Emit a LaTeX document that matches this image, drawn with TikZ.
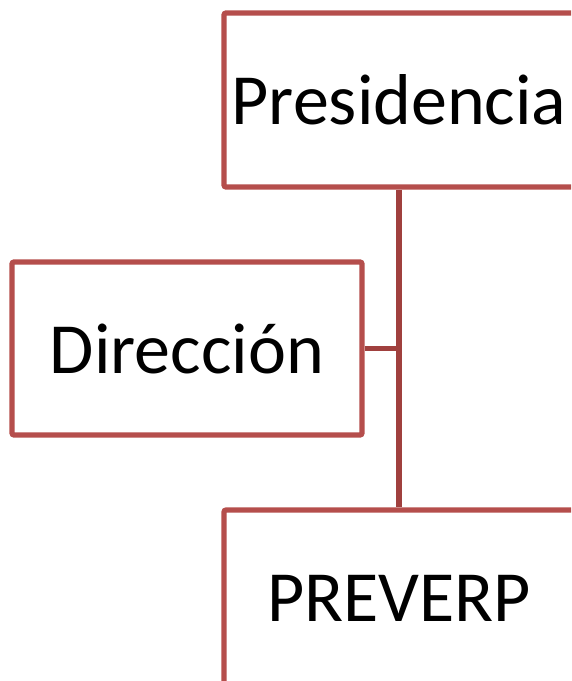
\documentclass[tikz,border=0pt]{standalone}
\usepackage{fontspec}
\setmainfont{Carlito}
\definecolor{boxred}{HTML}{B54E4C}
\definecolor{linered}{HTML}{A0403E}
\begin{document}
\begin{tikzpicture}[x=0.75pt,y=-0.75pt,
  orgbox/.style={draw=boxred,line width=3.9pt,rounded corners=1.5pt,fill=white,
    minimum width=262.5pt,minimum height=130.5pt,inner sep=0pt,
    font=\fontsize{54}{62}\selectfont},
  conn/.style={draw=linered,line width=3.9pt}]
\useasboundingbox (0,0) rectangle (571,681);
\clip (0,0) rectangle (571,681);
\node[orgbox] (pres) at (399,100) {Presidencia};
\node[orgbox,minimum height=129.75pt] (dir) at (187,348.5) {Dirección};
\node[orgbox,minimum height=132pt] (prev) at (399,598) {PREVERP};
\draw[conn] (pres.south) -- (prev.north);
\coordinate (j) at (399,348.5);
\draw[conn] (dir.east) -- (j);
\end{tikzpicture}
\end{document}
